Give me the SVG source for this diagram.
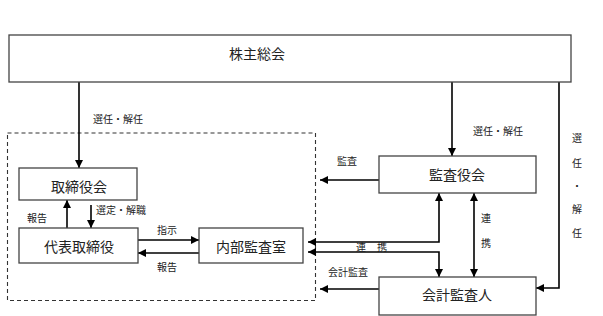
<svg xmlns="http://www.w3.org/2000/svg" width="603" height="316" viewBox="0 0 603 316">
<defs>
<marker id="ah" viewBox="0 0 10 10" refX="10" refY="5" markerWidth="8" markerHeight="8" markerUnits="userSpaceOnUse" orient="auto-start-reverse">
<path d="M0,0 L10,5 L0,10 Z" fill="#000"/>
</marker>
<style>
.box{fill:#fff;stroke:#444;stroke-width:1.3}
.t{font-family:"Noto Sans CJK JP","Noto Sans",sans-serif;font-size:14px;fill:#222;text-anchor:middle;dominant-baseline:central}
.s{font-family:"Noto Sans CJK JP","Noto Sans",sans-serif;font-size:10px;fill:#222;text-anchor:middle;dominant-baseline:central}
.c{fill:none;stroke:#000;stroke-width:1.6}
.a{marker-end:url(#ah)}
.b{marker-start:url(#ah);marker-end:url(#ah)}
.dash{fill:none;stroke:#333;stroke-width:1.1;stroke-dasharray:4 3}
</style>
</defs>
<rect width="603" height="316" fill="#fff"/>
<rect class="dash" x="7.5" y="133" width="308" height="167.5"/>
<g id="connectors">
<path class="c a" d="M79 82 V168"/>
<path class="c a" d="M452 82 V156"/>
<path class="c a" d="M559 82 V288 H536"/>
<path class="c a" d="M91 205 V228"/>
<path class="c a" d="M67 228 V200"/>
<path class="c a" d="M138 240 H199"/>
<path class="c a" d="M199 253 H138"/>
<path class="c a" d="M379 180 H320"/>
<path class="c b" d="M439 193 V242 H308"/>
<path class="c b" d="M439 277 V252 H308"/>
<path class="c b" d="M474 193 V277"/>
<path class="c a" d="M379 289 H320"/>
</g>
<g id="labels">
<text class="s" x="118" y="118">選任・解任</text>
<text class="s" x="121" y="209">選定・解職</text>
<text class="s" x="37" y="217">報告</text>
<text class="s" x="167" y="229">指示</text>
<text class="s" x="167" y="266">報告</text>
<text class="s" x="347" y="160">監査</text>
<text class="s" x="498" y="130">選任・解任</text>
<text class="s" x="361" y="246">連</text>
<text class="s" x="382" y="246">携</text>
<text class="s" x="348" y="271">会計監査</text>
<text class="s" x="486" y="217">連</text>
<text class="s" x="486" y="242">携</text>
<text class="s" x="577" y="137">選</text>
<text class="s" x="577" y="162">任</text>
<text class="s" x="577" y="185">・</text>
<text class="s" x="577" y="208">解</text>
<text class="s" x="577" y="232">任</text>
</g>
<g id="shareholders">
<rect class="box" x="9" y="35" width="562" height="47"/>
<text class="t" x="257" y="53">株主総会</text>
</g>
<g id="board">
<rect class="box" x="19" y="168" width="118" height="32"/>
<text class="t" x="79" y="186">取締役会</text>
</g>
<g id="rep">
<rect class="box" x="19" y="228" width="119" height="35"/>
<text class="t" x="79" y="246">代表取締役</text>
</g>
<g id="internal">
<rect class="box" x="199" y="228" width="104" height="35"/>
<text class="t" x="251" y="246">内部監査室</text>
</g>
<g id="auditors">
<rect class="box" x="379" y="156" width="157" height="37"/>
<text class="t" x="457" y="174">監査役会</text>
</g>
<g id="accountant">
<rect class="box" x="379" y="277" width="157" height="38"/>
<text class="t" x="457" y="294">会計監査人</text>
</g>
</svg>
